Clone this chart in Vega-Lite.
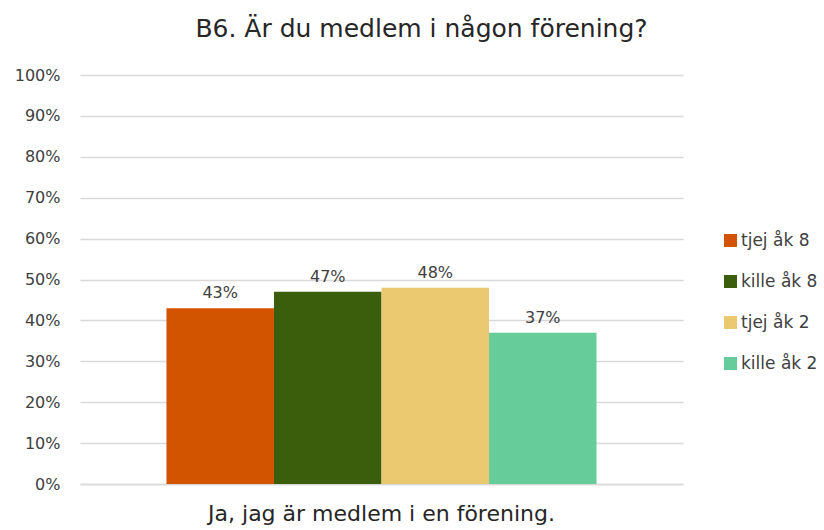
{
  "$schema": "https://vega.github.io/schema/vega-lite/v6.json",
  "width": 603,
  "height": 409,
  "autosize": {"type": "none"},
  "padding": {"left": 80, "top": 75, "right": 141, "bottom": 46},
  "background": "white",
  "title": {
    "text": "B6. Är du medlem i någon förening?",
    "font": "DejaVu Sans",
    "fontSize": 25,
    "fontWeight": "normal",
    "color": "#262626",
    "anchor": "middle",
    "dx": 40,
    "offset": 25
  },
  "data": {
    "values": [
      {"kategori": "Ja, jag är medlem i en förening.", "grupp": "tjej åk 8", "andel": 0.43},
      {"kategori": "Ja, jag är medlem i en förening.", "grupp": "kille åk 8", "andel": 0.47},
      {"kategori": "Ja, jag är medlem i en förening.", "grupp": "tjej åk 2", "andel": 0.48},
      {"kategori": "Ja, jag är medlem i en förening.", "grupp": "kille åk 2", "andel": 0.37}
    ]
  },
  "config": {
    "view": {"stroke": null},
    "font": "DejaVu Sans"
  },
  "encoding": {
    "x": {
      "field": "kategori",
      "type": "nominal",
      "scale": {"paddingInner": 0, "paddingOuter": 0.201},
      "axis": {
        "title": null,
        "labelFont": "DejaVu Sans",
        "labelFontSize": 22,
        "labelColor": "#262626",
        "labelAngle": 0,
        "labelLimit": 0,
        "labelPadding": 19,
        "ticks": false,
        "domainColor": "#d9d9d9",
        "domainWidth": 1.5
      }
    },
    "xOffset": {
      "field": "grupp",
      "type": "nominal",
      "sort": ["tjej åk 8", "kille åk 8", "tjej åk 2", "kille åk 2"],
      "scale": {"paddingInner": 0, "paddingOuter": 0}
    },
    "y": {
      "field": "andel",
      "type": "quantitative",
      "scale": {"domain": [0, 1]},
      "axis": {
        "title": null,
        "format": ".0%",
        "values": [0, 0.1, 0.2, 0.3, 0.4, 0.5, 0.6, 0.7, 0.8, 0.9, 1],
        "labelOverlap": false,
        "domain": false,
        "ticks": false,
        "labelPadding": 20,
        "labelFontSize": 16,
        "labelColor": "#404040",
        "gridColor": "#d9d9d9",
        "gridWidth": 1.5
      }
    }
  },
  "layer": [
    {
      "mark": {"type": "bar"},
      "encoding": {
        "color": {
          "field": "grupp",
          "type": "nominal",
          "sort": ["tjej åk 8", "kille åk 8", "tjej åk 2", "kille åk 2"],
          "scale": {
            "domain": ["tjej åk 8", "kille åk 8", "tjej åk 2", "kille åk 2"],
            "range": ["#D35400", "#3A5E0C", "#EBC970", "#66CD9A"]
          },
          "legend": {
            "title": null,
            "orient": "none",
            "legendX": 642,
            "legendY": 157,
            "symbolType": "square",
            "symbolSize": 170,
            "symbolStrokeWidth": 0,
            "labelFontSize": 17,
            "labelColor": "#404040",
            "labelOffset": 2,
            "labelLimit": 0,
            "rowPadding": 23
          }
        }
      }
    },
    {
      "mark": {"type": "text", "dy": -15, "fontSize": 16, "color": "#404040"},
      "encoding": {
        "text": {"field": "andel", "type": "quantitative", "format": ".0%"}
      }
    }
  ]
}
